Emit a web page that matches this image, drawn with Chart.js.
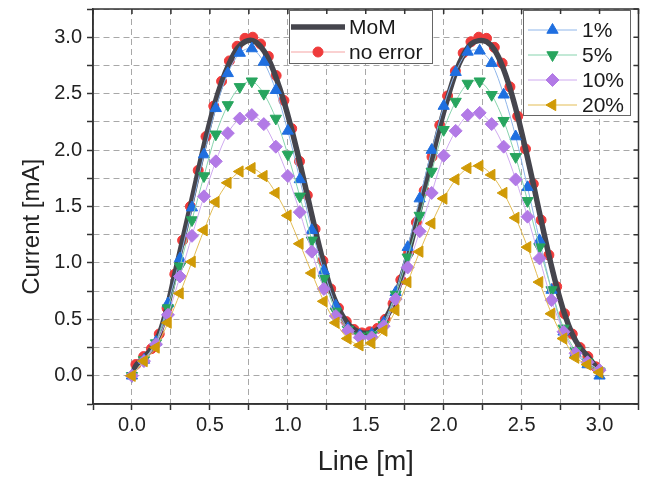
<!DOCTYPE html>
<html lang="en">
<head>
<meta charset="UTF-8">
<title>Current along line</title>
<script src="https://cdn.jsdelivr.net/npm/chart.js@4"></script>
<style>
  html, body { margin: 0; padding: 0; background: #fff; }
  #wrap { width: 646px; height: 479px; }
</style>
</head>
<body>
<div id="wrap"><canvas id="chart" width="646" height="479"></canvas></div>
<script>
// positions along the line [m]
const xFine = [0.025, 0.075, 0.125, 0.175, 0.225, 0.275, 0.325, 0.375, 0.425, 0.475,
  0.525, 0.575, 0.625, 0.675, 0.725, 0.775, 0.825, 0.875, 0.925, 0.975,
  1.025, 1.075, 1.125, 1.175, 1.225, 1.275, 1.325, 1.375, 1.425, 1.475,
  1.525, 1.575, 1.625, 1.675, 1.725, 1.775, 1.825, 1.875, 1.925, 1.975,
  2.025, 2.075, 2.125, 2.175, 2.225, 2.275, 2.325, 2.375, 2.425, 2.475,
  2.525, 2.575, 2.625, 2.675, 2.725, 2.775, 2.825, 2.875, 2.925, 2.975];
const xMom = [0].concat(xFine, [3]);
const xCoarse = [0, 0.077, 0.154, 0.231, 0.308, 0.385, 0.462, 0.538, 0.615, 0.692,
  0.769, 0.846, 0.923, 1.0, 1.077, 1.154, 1.231, 1.308, 1.385, 1.462,
  1.538, 1.615, 1.692, 1.769, 1.846, 1.923, 2.0, 2.077, 2.154, 2.231,
  2.308, 2.385, 2.462, 2.538, 2.615, 2.692, 2.769, 2.846, 2.923, 3.0];

// current [mA]
const mom = [0, 0.09, 0.16, 0.24, 0.37, 0.6, 0.9, 1.2, 1.5, 1.81, 2.11, 2.38, 2.6, 2.77, 2.9, 2.96,
  2.97, 2.92, 2.81, 2.64, 2.43, 2.18, 1.9, 1.6, 1.3, 1.02, 0.77, 0.6, 0.48, 0.41, 0.38,
  0.38, 0.41, 0.5, 0.64, 0.85, 1.09, 1.36, 1.64, 1.93, 2.21, 2.46, 2.68, 2.84, 2.94, 2.97,
  2.96, 2.89, 2.75, 2.55, 2.3, 2.01, 1.7, 1.38, 1.07, 0.79, 0.55, 0.37, 0.25, 0.17, 0.08, 0];
const noError = [0.10, 0.17, 0.24, 0.37, 0.60, 0.90, 1.20, 1.50, 1.82, 2.12,
  2.39, 2.61, 2.79, 2.92, 2.99, 3.00, 2.94, 2.83, 2.66, 2.44,
  2.19, 1.90, 1.60, 1.30, 1.02, 0.77, 0.60, 0.48, 0.41, 0.38,
  0.39, 0.42, 0.50, 0.64, 0.85, 1.09, 1.36, 1.64, 1.94, 2.22,
  2.48, 2.70, 2.86, 2.96, 3.00, 2.99, 2.91, 2.77, 2.56, 2.30,
  2.01, 1.70, 1.38, 1.07, 0.79, 0.55, 0.37, 0.25, 0.17, 0.08];
const err1 = [0.00, 0.14, 0.30, 0.64, 1.04, 1.49, 1.96, 2.37, 2.68, 2.86,
  2.90, 2.78, 2.53, 2.17, 1.74, 1.29, 0.93, 0.62, 0.42, 0.36,
  0.37, 0.47, 0.74, 1.14, 1.57, 2.00, 2.39, 2.69, 2.87, 2.88,
  2.77, 2.49, 2.12, 1.67, 1.20, 0.76, 0.39, 0.20, 0.10, 0.00];
const err5 = [0.00, 0.14, 0.29, 0.60, 0.97, 1.38, 1.77, 2.14, 2.40, 2.56,
  2.61, 2.50, 2.28, 1.96, 1.59, 1.20, 0.86, 0.57, 0.41, 0.35,
  0.36, 0.45, 0.72, 1.05, 1.42, 1.81, 2.18, 2.43, 2.59, 2.61,
  2.49, 2.26, 1.94, 1.55, 1.14, 0.76, 0.42, 0.22, 0.12, 0.04];
const err10 = [0.00, 0.13, 0.28, 0.54, 0.88, 1.24, 1.59, 1.90, 2.15, 2.28,
  2.31, 2.23, 2.03, 1.77, 1.45, 1.10, 0.77, 0.53, 0.40, 0.34,
  0.34, 0.44, 0.68, 0.96, 1.28, 1.62, 1.95, 2.17, 2.31, 2.33,
  2.23, 2.03, 1.74, 1.41, 1.04, 0.67, 0.39, 0.20, 0.12, 0.05];
const err20 = [0.00, 0.13, 0.25, 0.47, 0.73, 1.01, 1.29, 1.54, 1.71, 1.81,
  1.84, 1.77, 1.62, 1.42, 1.17, 0.91, 0.66, 0.47, 0.33, 0.27,
  0.29, 0.40, 0.58, 0.83, 1.10, 1.35, 1.57, 1.74, 1.84, 1.86,
  1.78, 1.62, 1.40, 1.14, 0.83, 0.55, 0.33, 0.16, 0.10, 0.03];

const toPoints = (xs, ys) => xs.map((x, i) => ({ x: x, y: ys[i] }));
const FONT = '"Liberation Sans", Arial, sans-serif';
const yTitle = 'Current [mA]';

// two legend boxes, offsets from the top-left of the plot area
const legendBoxes = [
  { items: [0, 1], left: 196, top: 1, width: 143, height: 53, firstRow: 17, rowGap: 25, lineFrom: 2, lineTo: 56, textX: 60 },
  { items: [2, 3, 4, 5], left: 430, top: 1, width: 107, height: 105, firstRow: 20, rowGap: 25, lineFrom: 5, lineTo: 54, textX: 59 }
];

const twoLegends = {
  id: 'twoLegends',
  afterDatasetsDraw(chart) {
    const { ctx, chartArea } = chart;
    legendBoxes.forEach(box => {
      const bx = chartArea.left + box.left, by = chartArea.top + box.top;
      ctx.save();
      ctx.fillStyle = '#fff';
      ctx.fillRect(bx, by, box.width, box.height);
      ctx.strokeStyle = '#666';
      ctx.lineWidth = 1;
      ctx.strokeRect(bx + 0.5, by + 0.5, box.width, box.height);
      box.items.forEach((idx, row) => {
        const ds = chart.data.datasets[idx];
        const y = by + box.firstRow + row * box.rowGap;
        ctx.strokeStyle = ds.borderColor;
        ctx.lineWidth = ds.borderWidth;
        ctx.beginPath();
        ctx.moveTo(bx + box.lineFrom, y);
        ctx.lineTo(bx + box.lineTo, y);
        ctx.stroke();
        if (ds.pointRadius > 0) {
          ctx.fillStyle = ds.pointBackgroundColor;
          ctx.strokeStyle = ds.pointBorderColor;
          ctx.lineWidth = 1;
          Chart.helpers.drawPoint(ctx, {
            pointStyle: ds.pointStyle, radius: ds.pointRadius,
            rotation: ds.pointRotation || 0, borderWidth: 1
          }, bx + (box.lineFrom + box.lineTo) / 2, y);
        }
        ctx.fillStyle = '#1a1a1a';
        ctx.font = '21px ' + FONT;
        ctx.textBaseline = 'middle';
        ctx.fillText(ds.label, bx + box.textX, y + 1);
      });
      ctx.restore();
    });
  }
};

// full frame plus inward ticks on top and right, and the y title
const frame = {
  id: 'frame',
  afterDraw(chart) {
    const { ctx, chartArea: a, scales: { x, y } } = chart;
    ctx.save();
    ctx.strokeStyle = '#333';
    ctx.lineWidth = 1.5;
    ctx.strokeRect(a.left, a.top, a.right - a.left, a.bottom - a.top);
    ctx.beginPath();
    x.ticks.forEach(t => {
      const px = x.getPixelForValue(t.value);
      ctx.moveTo(px, a.top); ctx.lineTo(px, a.top + 5);
    });
    y.ticks.forEach(t => {
      const py = y.getPixelForValue(t.value);
      ctx.moveTo(a.right, py); ctx.lineTo(a.right - 5, py);
    });
    ctx.stroke();

    // title sits a little below the axis centre, as in the source figure
    ctx.translate(32, y.getPixelForValue(1.32));
    ctx.rotate(-Math.PI / 2);
    ctx.fillStyle = '#222';
    ctx.font = '24px ' + FONT;
    ctx.textAlign = 'center';
    ctx.textBaseline = 'middle';
    ctx.fillText(yTitle, 0, 0);
    ctx.restore();
  }
};

const halfLabel = v => Math.abs(v * 2 - Math.round(v * 2)) < 1e-6 && v > -0.01 ? v.toFixed(1) : '';

const gridOpts = {
  color: '#a8a8a8',
  lineWidth: 1,
  tickLength: 6,
  tickColor: '#333',
  tickWidth: 1.5
};
const borderOpts = { color: '#333', width: 1.5, dash: [6, 4] };

new Chart(document.getElementById('chart'), {
  type: 'scatter',
  data: {
    datasets: [
      {
        label: 'MoM', data: toPoints(xMom, mom), showLine: true,
        borderColor: '#45454d', borderWidth: 5.5, pointRadius: 0, tension: 0.35, order: 5
      },
      {
        label: 'no error', data: toPoints(xFine, noError), showLine: true,
        borderColor: '#f5a3a3', borderWidth: 1, tension: 0.3,
        pointStyle: 'circle', pointRadius: 5, pointBackgroundColor: '#ef3b3b',
        pointBorderColor: '#ef3b3b', order: 6
      },
      {
        label: '1%', data: toPoints(xCoarse, err1), showLine: true,
        borderColor: '#8fb6ea', borderWidth: 1, tension: 0.3,
        pointStyle: 'triangle', pointRadius: 6.5, pointBackgroundColor: '#1f6fe0',
        pointBorderColor: '#1f6fe0', order: 4
      },
      {
        label: '5%', data: toPoints(xCoarse, err5), showLine: true,
        borderColor: '#86d3ad', borderWidth: 1, tension: 0.3,
        pointStyle: 'triangle', pointRotation: 180, pointRadius: 6.5, pointBackgroundColor: '#27a55e',
        pointBorderColor: '#27a55e', order: 3
      },
      {
        label: '10%', data: toPoints(xCoarse, err10), showLine: true,
        borderColor: '#cfaaf0', borderWidth: 1, tension: 0.3,
        pointStyle: 'rectRot', pointRadius: 6.5, pointBackgroundColor: '#b27ae6',
        pointBorderColor: '#b27ae6', order: 2
      },
      {
        label: '20%', data: toPoints(xCoarse, err20), showLine: true,
        borderColor: '#e3bd55', borderWidth: 1, tension: 0.3,
        pointStyle: 'triangle', pointRotation: 270, pointRadius: 6.5, pointBackgroundColor: '#d09a06',
        pointBorderColor: '#d09a06', order: 1
      }
    ]
  },
  options: {
    responsive: false,
    animation: false,
    layout: { padding: { left: 0, right: 7, top: 9, bottom: 0 } },
    scales: {
      x: {
        type: 'linear', min: -0.25, max: 3.25,
        afterFit: s => { s.height = 75; s.paddingLeft = 0; s.paddingRight = 0; },
        ticks: {
          stepSize: 0.25, autoSkip: false, maxRotation: 0, padding: 3,
          color: '#222', font: { family: FONT, size: 20 }, callback: halfLabel
        },
        grid: gridOpts,
        border: borderOpts,
        title: {
          display: true, text: 'Line [m]', color: '#222',
          font: { family: FONT, size: 27 }, padding: { top: 0, bottom: 0 }
        }
      },
      y: {
        type: 'linear', min: -0.25, max: 3.25,
        afterFit: s => { s.width = 93; s.paddingTop = 0; s.paddingBottom = 0; },
        ticks: {
          stepSize: 0.25, autoSkip: false, padding: 5,
          color: '#222', font: { family: FONT, size: 20 }, callback: halfLabel
        },
        grid: gridOpts,
        border: borderOpts,
        title: { display: false }
      }
    },
    plugins: {
      legend: { display: false },
      tooltip: { enabled: false }
    }
  },
  plugins: [twoLegends, frame]
});
</script>
</body>
</html>
